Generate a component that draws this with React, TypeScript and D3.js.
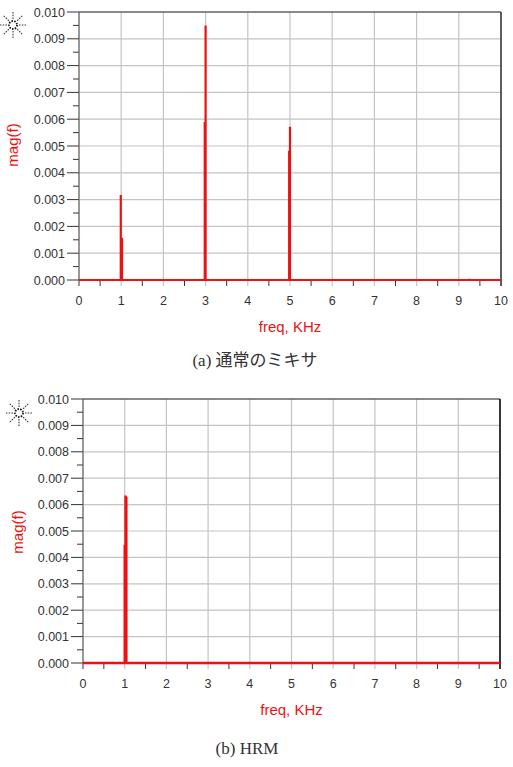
import React from "react";
import * as d3 from "d3";

// spectrum peaks: [freq kHz, mag]
const mixerPeaks: [number, number][] = [
  [0.99, 0.00317], [1.02, 0.00158],
  [2.98, 0.0059], [3.0, 0.0095],
  [4.98, 0.00482], [5.0, 0.00572],
  [9.25, 0.00005],
];
const hrmPeaks: [number, number][] = [
  [1.0, 0.00448], [1.02, 0.00634], [1.04, 0.0063],
];

const xTicks = [0, 1, 2, 3, 4, 5, 6, 7, 8, 9, 10];
const yTicks = [0, 0.001, 0.002, 0.003, 0.004, 0.005, 0.006, 0.007, 0.008, 0.009, 0.01];
const yLabels = ["0.000", "0.001", "0.002", "0.003", "0.004", "0.005", "0.006", "0.007", "0.008", "0.009", "0.010"];
const captions = ["(a) 通常のミキサ", "(b) HRM"];

const RED = "#ee1111";
const FONT = "'Liberation Sans', Arial, sans-serif";

// spectrum trace: flat zero with a vertical stem at every peak
function trace(peaks: [number, number][]) {
  const pts: [number, number][] = [[0, 0]];
  peaks.forEach(p => {
    pts.push([p[0], 0], [p[0], p[1]], [p[0], 0]);
  });
  pts.push([10, 0]);
  return pts;
}

function Sun({ cx, cy }: { cx: number; cy: number }) {
  const rays = d3.range(8).map(i => (i * Math.PI) / 4);
  return (
    <g stroke="#333" strokeWidth={1.1} strokeDasharray="1.5,1.3" fill="none">
      {rays.map((a, i) => (
        <line key={i} x1={cx + Math.cos(a) * 6} y1={cy + Math.sin(a) * 6}
          x2={cx + Math.cos(a) * 13} y2={cy + Math.sin(a) * 13} />
      ))}
      <circle cx={cx} cy={cy} r={4} strokeWidth={1.8} stroke="#111" />
    </g>
  );
}

type ChartProps = {
  peaks: [number, number][];
  left: number; right: number; top: number; bottom: number;
  sun: [number, number]; yTitle: [number, number];
  xTitle: number; caption: string; capX: number; capY: number;
  rightColor: string; stem: number;
};

function Chart(p: ChartProps) {
  const x = d3.scaleLinear().domain([0, 10]).range([p.left, p.right]);
  const y = d3.scaleLinear().domain([0, 0.01]).range([p.bottom, p.top]);
  const line = d3.line<[number, number]>().x(d => x(d[0])).y(d => y(d[1]));
  const xMinor = d3.range(0.5, 10, 1);
  const yMinor = d3.range(0.0005, 0.01, 0.001);
  return (
    <g>
      <Sun cx={p.sun[0]} cy={p.sun[1]} />
      {xTicks.map(t => (
        <line key={"gx" + t} x1={x(t)} x2={x(t)} y1={p.top} y2={p.bottom + 6} stroke="#c4c4c4" strokeWidth={1.2} />
      ))}
      {yTicks.map(t => (
        <line key={"gy" + t} x1={p.left} x2={p.right} y1={y(t)} y2={y(t)} stroke="#c4c4c4" strokeWidth={1.2} />
      ))}
      {xMinor.map(t => (
        <line key={"mx" + t} x1={x(t)} x2={x(t)} y1={p.bottom} y2={p.bottom + 6} stroke="#333" />
      ))}
      {yMinor.map(t => (
        <line key={"my" + t} x1={p.left - 6} x2={p.left} y1={y(t)} y2={y(t)} stroke="#333" />
      ))}
      {yTicks.map((t, i) => (
        <g key={"ty" + t}>
          <line x1={p.left - 12} x2={p.left} y1={y(t)} y2={y(t)} stroke="#333" />
          <text x={p.left - 14} y={y(t) + 4.5} textAnchor="end" fontFamily={FONT} fontSize={12.5} fill="#333">{yLabels[i]}</text>
        </g>
      ))}
      {xTicks.map(t => (
        <text key={"tx" + t} x={x(t)} y={p.bottom + 25} textAnchor="middle" fontFamily={FONT} fontSize={12.5} fill="#333">{t}</text>
      ))}
      <line x1={p.left} x2={p.right} y1={p.top} y2={p.top} stroke="#333" strokeWidth={1.2} />
      <line x1={p.left} x2={p.left} y1={p.top} y2={p.bottom + 6} stroke="#555" strokeWidth={1} />
      <line x1={p.right} x2={p.right} y1={p.top} y2={p.bottom + 6} stroke={p.rightColor} strokeWidth={1.5} />
      <path d={line(trace(p.peaks)) || ""} fill="none" stroke={RED} strokeWidth={p.stem} strokeLinejoin="bevel" />
      <line x1={p.left} x2={p.right} y1={p.bottom} y2={p.bottom} stroke={RED} strokeWidth={2} />
      <text x={(p.left + p.right) / 2} y={p.xTitle} textAnchor="middle" fontFamily={FONT} fontSize={15} fill={RED}>freq, KHz</text>
      <text transform={`translate(${p.yTitle[0]},${p.yTitle[1]}) rotate(-90)`} textAnchor="middle" fontFamily={FONT} fontSize={15} fill={RED}>mag(f)</text>
      <text x={p.capX} y={p.capY} textAnchor="middle" fontFamily="'Liberation Serif', 'Noto Sans CJK JP', serif" fontSize={17} fill="#333">{p.caption}</text>
    </g>
  );
}

export default function App() {
  return (
    <svg width={513} height={767} style={{ position: "absolute", left: 0, top: 0, background: "#fff" }}>
      <rect width={513} height={767} fill="#fff" />
      <Chart peaks={mixerPeaks} left={79} right={501} top={12} bottom={280} stem={2.2}
        sun={[13, 25]} yTitle={[18, 145]} xTitle={332} caption={captions[0]} capX={255} capY={366} rightColor="#333" />
      <Chart peaks={hrmPeaks} left={83} right={500} top={399} bottom={663} stem={2.4}
        sun={[19, 413]} yTitle={[23, 532]} xTitle={715} caption={captions[1]} capX={247} capY={754} rightColor="#000" />
    </svg>
  );
}
